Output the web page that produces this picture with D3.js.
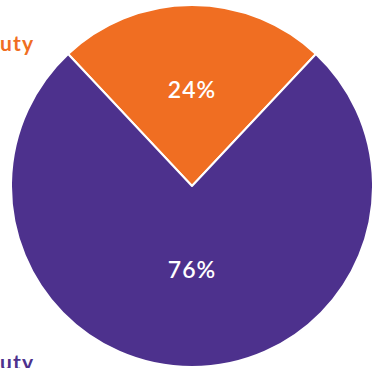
<!DOCTYPE html>
<html>
<head>
<meta charset="utf-8">
<script src="https://cdn.jsdelivr.net/npm/d3@7"></script>
<style>
  html, body { margin: 0; padding: 0; background: #fff; overflow: hidden; }
  svg { display: block; }
</style>
</head>
<body>
<svg id="chart" width="372" height="368"></svg>
<script>
// Share of time by duty status
const categories = ["Off duty", "On duty"];
const shares = [24, 76];
const colors = ["#F06E22", "#4D318D"];

const width = 372, height = 368;
const cx = 192, cy = 186, radius = 181;

const svg = d3.select("#chart");
const g = svg.append("g").attr("transform", `translate(${cx},${cy})`);

// Orange slice centred at the top of the pie
const startOffset = -(shares[0] / 100) * Math.PI;
const pie = d3.pie()
  .sort(null)
  .value(d => d)
  .startAngle(startOffset)
  .endAngle(startOffset + 2 * Math.PI);

const arcs = pie(shares);
const arc = d3.arc().innerRadius(0).outerRadius(radius);

g.selectAll("path.slice")
  .data(arcs)
  .enter().append("path")
  .attr("class", "slice")
  .attr("d", arc)
  .attr("fill", (d, i) => colors[i])
  .attr("stroke", "#fff")
  .attr("stroke-width", 2)
  .attr("stroke-linejoin", "round");

// Percentage labels inside each slice
const labelRadius = [0.53 * radius, 0.46 * radius];
g.selectAll("text.pct")
  .data(arcs)
  .enter().append("text")
  .attr("class", "pct")
  .attr("transform", (d, i) => {
    const a = (d.startAngle + d.endAngle) / 2;
    const r = labelRadius[i];
    return `translate(${r * Math.sin(a)},${-r * Math.cos(a)})`;
  })
  .attr("text-anchor", "middle")
  .attr("dy", "0.36em")
  .attr("fill", "#fff")
  .style("font-family", "Lato, 'Open Sans', sans-serif")
  .style("font-weight", 600)
  .style("font-size", "23px")
  .style("letter-spacing", "1px")
  .text((d, i) => shares[i] + "%");

// Category names run off the left edge of the page; the final "uty" starts at x = 0
const catY = [51, 370];
const cats = svg.selectAll("text.cat")
  .data(categories)
  .enter().append("text")
  .attr("class", "cat")
  .attr("y", (d, i) => catY[i])
  .attr("fill", (d, i) => colors[i])
  .style("font-family", "Lato, 'Open Sans', sans-serif")
  .style("font-weight", 700)
  .style("font-size", "21px")
  .style("letter-spacing", "1.2px")
  .text(d => d);

cats.attr("x", function(d) {
  const prefix = this.getSubStringLength(0, d.length - 3);
  return -prefix;
});
</script>
</body>
</html>
